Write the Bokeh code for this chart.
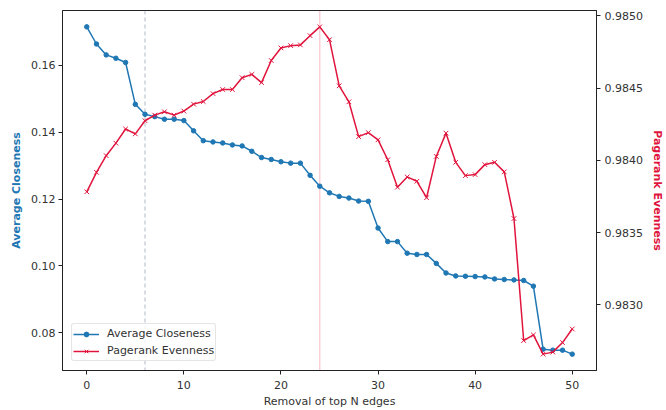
from bokeh.plotting import figure
from bokeh.models import Range1d, LinearAxis, FixedTicker, PrintfTickFormatter, Span
from bokeh.embed import file_html
from bokeh.resources import INLINE

# ---- data ----
edges_removed = list(range(51))
avg_closeness = [
    0.17156, 0.16643, 0.16317, 0.16216, 0.16089, 0.14836, 0.14539, 0.14468, 0.14391, 0.14391,
    0.14350, 0.14044, 0.13748, 0.13710, 0.13680, 0.13621, 0.13591, 0.13431, 0.13244, 0.13185,
    0.13117, 0.13076, 0.13076, 0.12711, 0.12385, 0.12187, 0.12080, 0.12030, 0.11941, 0.11932,
    0.11132, 0.10726, 0.10726, 0.10379, 0.10341, 0.10341, 0.10074, 0.09787, 0.09698, 0.09689,
    0.09680, 0.09668, 0.09609, 0.09591, 0.09579, 0.09562, 0.09393, 0.07505, 0.07476, 0.07476,
    0.07357,
]
pagerank_evenness = [
    0.983782, 0.983917, 0.984032, 0.984119, 0.984217, 0.984183, 0.984274, 0.984313, 0.984336, 0.984313,
    0.984341, 0.984389, 0.984407, 0.984462, 0.984490, 0.984490, 0.984572, 0.984595, 0.984538, 0.984691,
    0.984778, 0.984794, 0.984799, 0.984863, 0.984924, 0.984835, 0.984516, 0.984405, 0.984164, 0.984192,
    0.984142, 0.984004, 0.983814, 0.983885, 0.983855, 0.983741, 0.984027, 0.984188, 0.983986, 0.983894,
    0.983901, 0.983970, 0.983986, 0.983920, 0.983597, 0.982752, 0.982791, 0.982658, 0.982672, 0.982738,
    0.982832,
]
x_ticks = [0, 10, 20, 30, 40, 50]
closeness_ticks = [0.08, 0.10, 0.12, 0.14, 0.16]
evenness_ticks = [0.9830, 0.9835, 0.9840, 0.9845, 0.9850]
highlight_edges = [6, 24]

BLUE = "#1f77b4"
RED = "#e0143c"
FONT = "DejaVu Sans"


def padded(vals, frac=0.05):
    lo, hi = min(vals), max(vals)
    pad = (hi - lo) * frac
    return lo - pad, hi + pad


p = figure(
    width=666, height=410,
    output_backend="svg", toolbar_location=None,
    x_range=Range1d(*padded(edges_removed)),
    y_range=Range1d(*padded(avg_closeness)),
    min_border_left=62, min_border_right=68, min_border_top=10, min_border_bottom=37,
)
p.extra_y_ranges = {"right": Range1d(*padded(pagerank_evenness))}
p.background_fill_color = "white"
p.border_fill_color = "white"
p.outline_line_color = "#222222"
p.outline_line_width = 1
p.xgrid.visible = False
p.ygrid.visible = False

# vertical markers
p.add_layout(Span(location=highlight_edges[0], dimension="height", line_color="#8a9aa8",
                  line_dash="4 3", line_width=1, line_alpha=0.7, level="underlay"))
p.add_layout(Span(location=highlight_edges[1], dimension="height", line_color=RED,
                  line_width=1.2, line_alpha=0.25, level="underlay"))

# right axis
right_axis = LinearAxis(y_range_name="right")
p.add_layout(right_axis, "right")

# series
p.line(edges_removed, avg_closeness, line_color=BLUE, line_width=1.5,
       legend_label="Average Closeness")
p.scatter(edges_removed, avg_closeness, marker="circle", size=4.5, color=BLUE,
          legend_label="Average Closeness")
p.line(edges_removed, pagerank_evenness, line_color=RED, line_width=1.5,
       y_range_name="right", legend_label="Pagerank Evenness")
p.scatter(edges_removed, pagerank_evenness, marker="x", size=6.5, line_color=RED,
          line_width=1, y_range_name="right", legend_label="Pagerank Evenness")

# axes styling
for ax in [p.xaxis[0], p.yaxis[0], right_axis]:
    ax.axis_line_color = "#222222"
    ax.major_tick_line_color = "#222222"
    ax.major_tick_out = 4
    ax.major_tick_in = 0
    ax.minor_tick_line_color = None
    ax.major_label_text_font = FONT
    ax.major_label_text_font_size = "11px"
    ax.major_label_text_color = "#333333"
    ax.major_label_standoff = 3
    ax.axis_label_text_font = FONT
    ax.axis_label_text_font_size = "11px"
    ax.axis_label_standoff = 5

p.xaxis[0].ticker = FixedTicker(ticks=x_ticks)
p.xaxis[0].axis_label = "Removal of top N edges"
p.xaxis[0].axis_label_text_font_style = "normal"
p.xaxis[0].axis_label_text_color = "#333333"
p.xaxis[0].major_label_standoff = 6
p.xaxis[0].axis_label_standoff = 3

p.yaxis[0].ticker = FixedTicker(ticks=closeness_ticks)
p.yaxis[0].formatter = PrintfTickFormatter(format="%.2f")
p.yaxis[0].axis_label = "Average Closeness"
p.yaxis[0].axis_label_text_color = BLUE
p.yaxis[0].axis_label_text_font_style = "bold"

right_axis.ticker = FixedTicker(ticks=evenness_ticks)
right_axis.formatter = PrintfTickFormatter(format="%.4f")
right_axis.major_label_standoff = 4
right_axis.axis_label = "Pagerank Evenness"
right_axis.axis_label_text_color = RED
right_axis.axis_label_text_font_style = "bold"

# legend
lg = p.legend[0]
lg.location = "bottom_left"
lg.margin = 9
lg.padding = 1
lg.spacing = 0
lg.label_text_font = FONT
lg.label_text_font_size = "11px"
lg.label_text_color = "#333333"
lg.label_standoff = 8
lg.glyph_width = 26
lg.glyph_height = 12
lg.label_height = 17
lg.border_line_color = "#cccccc"
lg.border_line_width = 1
lg.background_fill_alpha = 0.8
lg.border_radius = 3

open("out.html", "w").write(file_html(p, INLINE))
